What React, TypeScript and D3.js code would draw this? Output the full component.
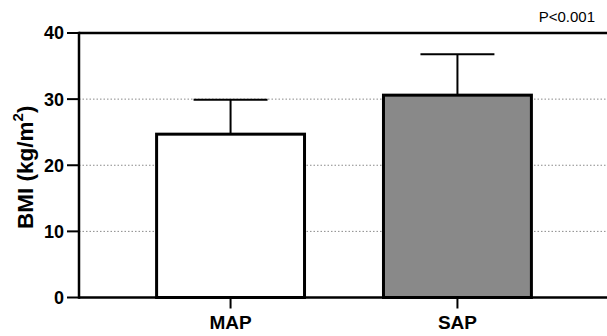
import React from "react";
import * as d3 from "d3";

const categories = ["MAP", "SAP"];
const means = [24.7, 30.6];
const errorTops = [29.9, 36.8];
const fills = ["#ffffff", "#898989"];
const yTicks = [0, 10, 20, 30, 40];
const gridTicks = [10, 20, 30];
const pLabel = "P<0.001";

const W = 607;
const H = 336;
const left = 79;
const right = 609;
const top = 33;
const bottom = 297.5;

export default function App() {
  const y = d3.scaleLinear().domain([0, 40]).range([bottom, top]);
  const x = d3
    .scaleBand<string>()
    .domain(categories)
    .range([left, right])
    .paddingInner(0.348)
    .paddingOuter(0.342);
  const bw = x.bandwidth();
  const capW = bw * 0.5;
  const font = "'Liberation Sans', Arial, Helvetica, sans-serif";

  return (
    <svg
      width={W}
      height={H}
      style={{ position: "absolute", left: 0, top: 0 }}
      fontFamily={font}
    >
      {gridTicks.map((t) => (
        <line
          key={"g" + t}
          x1={left}
          x2={W}
          y1={y(t)}
          y2={y(t)}
          stroke="#8a8a8a"
          strokeWidth={1}
          strokeDasharray="1.5,2"
        />
      ))}
      <line x1={left} x2={W} y1={y(40)} y2={y(40)} stroke="#000" strokeWidth={2.5} />
      {categories.map((c, i) => {
        const cx = (x(c) as number) + bw / 2;
        return (
          <g key={c}>
            <line
              x1={cx}
              x2={cx}
              y1={y(means[i])}
              y2={y(errorTops[i])}
              stroke="#000"
              strokeWidth={2}
            />
            <line
              x1={cx - capW / 2}
              x2={cx + capW / 2}
              y1={y(errorTops[i])}
              y2={y(errorTops[i])}
              stroke="#000"
              strokeWidth={2}
            />
            <rect
              x={x(c) as number}
              y={y(means[i])}
              width={bw}
              height={y(0) - y(means[i])}
              fill={fills[i]}
              stroke="#000"
              strokeWidth={3}
            />
            <line x1={cx} x2={cx} y1={bottom} y2={bottom + 11} stroke="#000" strokeWidth={2} />
            <text
              x={cx}
              y={329}
              textAnchor="middle"
              fontWeight="bold"
              fontSize={19}
              fill="#000"
            >
              {c}
            </text>
          </g>
        );
      })}
      <line x1={left} x2={W} y1={bottom} y2={bottom} stroke="#000" strokeWidth={2.5} />
      <line x1={left} x2={left} y1={top - 1.25} y2={bottom + 1.25} stroke="#000" strokeWidth={2.5} />
      {yTicks.map((t) => (
        <g key={"t" + t}>
          <line x1={left - 12} x2={left} y1={y(t)} y2={y(t)} stroke="#000" strokeWidth={2} />
          <text
            x={left - 15}
            y={y(t)}
            dy="0.36em"
            textAnchor="end"
            fontWeight="bold"
            fontSize={18}
            fill="#000"
          >
            {t}
          </text>
        </g>
      ))}
      <text
        transform={`translate(33, ${(top + bottom) / 2 + 2}) rotate(-90)`}
        textAnchor="middle"
        fontWeight="bold"
        fontSize={22.5}
        fill="#000"
      >
        BMI (kg/m
        <tspan fontSize={15} dy={-10}>
          2
        </tspan>
        <tspan dy={10}>)</tspan>
      </text>
      <text x={595} y={22} textAnchor="end" fontSize={15} fill="#000">
        {pLabel}
      </text>
    </svg>
  );
}
